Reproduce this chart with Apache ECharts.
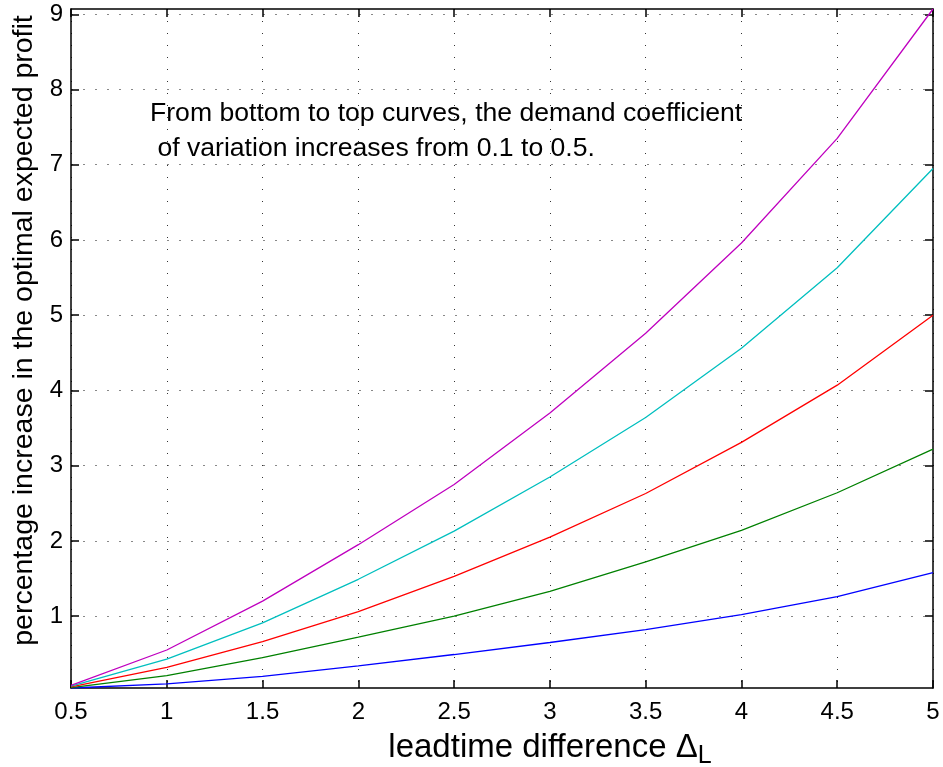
<!DOCTYPE html>
<html>
<head>
<meta charset="utf-8">
<script src="https://cdn.jsdelivr.net/npm/echarts@6/dist/echarts.min.js"></script>
<style>
html,body{margin:0;padding:0;background:#fff;}
#chart{width:943px;height:767px;}
</style>
</head>
<body>
<div id="chart"></div>
<script>
// Data
const leadtimeDiff = [0.5, 1, 1.5, 2, 2.5, 3, 3.5, 4, 4.5, 5];
const cv01 = [0.045, 0.10, 0.20, 0.34, 0.49, 0.65, 0.82, 1.02, 1.26, 1.58];
const cv02 = [0.05, 0.21, 0.45, 0.72, 1.00, 1.33, 1.72, 2.14, 2.64, 3.22];
const cv03 = [0.06, 0.32, 0.66, 1.06, 1.53, 2.05, 2.63, 3.31, 4.07, 5.00];
const cv04 = [0.07, 0.43, 0.91, 1.49, 2.13, 2.85, 3.64, 4.56, 5.63, 6.95];
const cv05 = [0.08, 0.55, 1.20, 1.95, 2.75, 3.70, 4.76, 5.96, 7.35, 9.07];
const yTickValues = [1, 2, 3, 4, 5, 6, 7, 8, 9];
const seriesColors = ['#0000ff', '#008000', '#ff0000', '#00bfbf', '#bf00bf'];
const annotationLines = ['From bottom to top curves, the demand coefficient', ' of variation increases from 0.1 to 0.5.'];

const FONT = 'Liberation Sans';
const chart = echarts.init(document.getElementById('chart'), null, {renderer: 'canvas'});

function pairs(ys) { return leadtimeDiff.map((x, i) => [x, ys[i]]); }

const allSeries = [cv01, cv02, cv03, cv04, cv05].map((ys, i) => ({
  type: 'line',
  data: pairs(ys),
  showSymbol: false,
  symbol: 'none',
  lineStyle: {color: seriesColors[i], width: 1.3},
  itemStyle: {color: seriesColors[i]},
  z: 3
}));

const xMin = 0.5, xMax = 5, yMin = 0.045, yMax = 9.07;

const option = {
  animation: false,
  backgroundColor: '#fff',
  grid: {left: 71, right: 10, top: 9, bottom: 79, containLabel: false, outerBoundsMode: 'none'},
  xAxis: [{
    type: 'value', min: xMin, max: xMax, interval: 0.5, position: 'bottom',
    name: 'leadtime difference {d|Δ}{s|L}',
    nameLocation: 'middle', nameGap: 38,
    nameTextStyle: {
      fontFamily: FONT, fontSize: 33, color: '#000', padding: [0, 0, 0, 96],
      rich: {
        d: {fontFamily: FONT, fontSize: 33, color: '#000'},
        s: {fontFamily: FONT, fontSize: 25, color: '#000', padding: [18, 0, 0, 0]}
      }
    },
    axisLine: {show: true, onZero: false, lineStyle: {color: '#000', width: 1.5}},
    axisTick: {show: true, inside: true, length: 8, lineStyle: {color: '#000', width: 1.5}},
    axisLabel: {fontFamily: FONT, fontSize: 24, color: '#000', margin: 12,
      formatter: v => String(Math.round(v * 10) / 10)},
    splitLine: {show: true, lineStyle: {color: '#333', width: 1, type: [1, 11]}}
  }, {
    type: 'value', min: xMin, max: xMax, interval: 0.5, position: 'top',
    axisLine: {show: true, onZero: false, lineStyle: {color: '#000', width: 1.5}},
    axisTick: {show: true, inside: true, length: 8, lineStyle: {color: '#000', width: 1.5}},
    axisLabel: {show: false},
    splitLine: {show: false}
  }],
  yAxis: [{
    type: 'value', min: yMin, max: yMax, position: 'left',
    name: 'percentage increase in the optimal expected profit',
    nameLocation: 'middle', nameGap: 32, nameRotate: 90,
    nameTextStyle: {fontFamily: FONT, fontSize: 28.5, color: '#000', padding: [0, 0, 0, 36]},
    axisLine: {show: true, onZero: false, lineStyle: {color: '#000', width: 1.5}},
    axisTick: {show: true, inside: true, length: 8, customValues: yTickValues, lineStyle: {color: '#000', width: 1.5}},
    axisLabel: {fontFamily: FONT, fontSize: 24, color: '#000', margin: 8, customValues: yTickValues},
    splitLine: {show: true, lineStyle: {color: '#888', width: 1, type: [2, 10]}}
  }, {
    type: 'value', min: yMin, max: yMax, position: 'right',
    axisLine: {show: true, onZero: false, lineStyle: {color: '#000', width: 1.5}},
    axisTick: {show: true, inside: true, length: 8, customValues: yTickValues, lineStyle: {color: '#000', width: 1.5}},
    axisLabel: {show: false, customValues: yTickValues},
    splitLine: {show: false}
  }],
  graphic: annotationLines.map((t, i) => ({
    type: 'text', left: 150, top: 100 + i * 35, z: 10,
    style: {text: t, fontFamily: FONT, fontSize: 26.6, fill: '#000'}
  })),
  series: allSeries
};
chart.setOption(option);
</script>
</body>
</html>
